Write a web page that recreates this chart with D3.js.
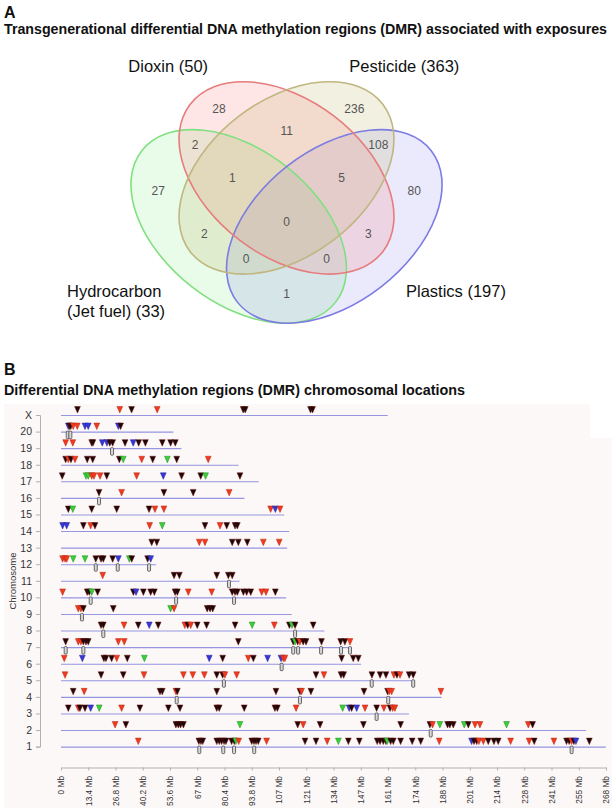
<!DOCTYPE html>
<html><head><meta charset="utf-8">
<script src="https://cdn.jsdelivr.net/npm/d3@7"></script>
<style>
body{margin:0;background:#fff;}
svg{display:block;font-family:"Liberation Sans",Arial,sans-serif;}
</style>
</head><body>
<svg id="c" width="616" height="812"></svg>
<script>
// ---------------- Panel A data ----------------
const setNames = ["Dioxin (50)", "Pesticide (363)", "Hydrocarbon", "(Jet fuel) (33)", "Plastics (197)"];
// region keys: D=Dioxin, P=Pesticide, H=Hydrocarbon, L=Plastics
const regionKeys   = ["D","P","DP","HD","PL","HDP","DPL","H","L","HDPL","HP","DL","HPL","HDL","HL"];
const regionCounts = [28, 236, 11, 2, 108, 1, 5, 27, 80, 0, 2, 3, 0, 0, 1];

// ---------------- Panel B data ----------------
const chromNames   = ["X","20","19","18","17","16","15","14","13","12","11","10","9","8","7","6","5","4","3","2","1"];
const chromLengths = [160.7,55.3,59.2,87.3,97.3,90.2,109.8,112.2,111.2,46.8,87.8,110.7,113.4,129.5,143.0,147.6,173.1,187.1,171.1,258.2,267.9];
const xTickValues  = [0,13.4,26.8,40.2,53.6,67,80.4,93.8,107.2,120.6,134,147.4,160.8,174.2,187.6,201,214.4,227.8,241.2,254.6,268];
const xTickLabels  = ["0 Mb","13.4 Mb","26.8 Mb","40.2 Mb","53.6 Mb","67 Mb","80.4 Mb","93.8 Mb","107 Mb","121 Mb","134 Mb","147 Mb","161 Mb","174 Mb","188 Mb","201 Mb","214 Mb","228 Mb","241 Mb","255 Mb","268 Mb"];

// DMR positions (Mb) with exposure type: k=dark, r=red, b=blue, g=green
const dmrX  = [[8.1,"k"],[28.9,"r"],[34.7,"k"],[47.3,"r"],[89.6,"k"],[90.6,"k"],[122.7,"k"],[123.7,"k"]];
const dmr20 = [[3.6,"b"],[4.2,"k"],[4.8,"k"],[6.0,"r"],[8.0,"r"],[11.8,"b"],[13.4,"b"],[17.6,"r"],[28.2,"b"],[29.3,"k"]];
const dmr19 = [[2.3,"r"],[5.8,"r"],[15.1,"k"],[15.7,"k"],[20.3,"b"],[22.6,"b"],[24,"k"],[25.4,"k"],[31.5,"k"],[35.5,"b"],[38.2,"k"],[41.5,"k"],[49.8,"k"],[53.9,"k"],[56.2,"k"]];
const dmr18 = [[2.3,"k"],[3.6,"r"],[4.9,"k"],[6.9,"r"],[12.9,"k"],[15.6,"k"],[28.7,"k"],[30.6,"g"],[39.7,"r"],[45.1,"k"],[52.3,"g"],[56.9,"k"],[72.4,"r"]];
const dmr17 = [[0.6,"k"],[12.3,"g"],[13.4,"g"],[15.1,"r"],[16.2,"r"],[19.2,"r"],[22.5,"k"],[37.2,"r"],[50.3,"b"],[59.3,"k"],[68.7,"k"],[71.1,"g"],[88,"k"]];
const dmr16 = [[18.7,"k"],[29.8,"r"],[50.6,"k"],[65,"k"],[82.7,"r"]];
const dmr15 = [[3.6,"k"],[5.8,"g"],[15.1,"k"],[27.4,"k"],[43.3,"k"],[46.2,"r"],[50.6,"r"],[103.1,"r"],[105.4,"b"],[107.7,"r"]];
const dmr14 = [[0.8,"b"],[2.8,"b"],[11,"k"],[14.6,"r"],[16.7,"k"],[43.6,"r"],[49.8,"g"],[70.8,"k"],[78.2,"r"],[81.5,"k"],[85.6,"k"],[86.7,"k"]];
const dmr13 = [[44.6,"k"],[47.1,"k"],[68,"r"],[70.8,"r"],[84.2,"k"],[87.2,"k"],[91.6,"k"],[99.5,"r"],[107.3,"r"]];
const dmr12 = [[0.8,"r"],[2,"r"],[2.8,"r"],[6,"g"],[11.8,"g"],[17.1,"k"],[19.7,"k"],[20.8,"k"],[25.4,"k"],[28.2,"b"],[33.6,"g"],[34.8,"k"],[42.6,"k"],[44.1,"b"]];
const dmr11 = [[20.5,"r"],[55.6,"k"],[58.2,"k"],[76.6,"k"],[82.3,"k"],[84.2,"k"]];
const dmr10 = [[0.8,"r"],[12.9,"k"],[13.9,"k"],[15.1,"g"],[18,"k"],[35.6,"k"],[36.9,"b"],[40.5,"k"],[44.1,"k"],[45.9,"k"],[56.1,"k"],[57.2,"k"],[62.6,"r"],[74.1,"r"],[84.2,"k"],[85.6,"k"],[86.7,"k"],[89.7,"k"],[91.3,"k"],[93.3,"k"],[98.7,"r"],[100.8,"r"],[105.4,"k"]];
const dmr9  = [[8.5,"r"],[9.8,"r"],[11,"k"],[25.7,"k"],[53.9,"g"],[55.6,"r"],[71.9,"k"],[73.3,"k"],[74.6,"k"]];
const dmr8  = [[19.7,"k"],[20.8,"k"],[31,"r"],[38,"k"],[43.4,"b"],[47.8,"k"],[60.9,"r"],[62.3,"k"],[63.8,"r"],[67,"k"],[71.6,"k"],[85.6,"k"],[94,"g"],[104.9,"r"],[112.3,"k"],[113.6,"g"],[115.1,"k"],[124,"k"]];
const dmr7  = [[2.3,"k"],[8.5,"r"],[9.8,"r"],[11,"k"],[12.3,"k"],[13.4,"k"],[28.2,"r"],[31.1,"r"],[87.2,"k"],[114.2,"k"],[115.1,"g"],[116.4,"k"],[117.5,"r"],[119.1,"k"],[120.5,"k"],[128.1,"k"],[137.5,"k"],[139.6,"k"],[142.1,"r"]];
const dmr6  = [[1.6,"r"],[10.5,"b"],[21.1,"k"],[22.1,"k"],[24.9,"k"],[27.4,"r"],[32.6,"k"],[41,"g"],[72.9,"b"],[79.5,"k"],[92.1,"r"],[94.6,"k"],[101.6,"b"],[108.2,"b"],[109.3,"r"],[110.1,"r"],[138,"k"],[143.7,"k"],[146.2,"k"]];
const dmr5  = [[2,"r"],[19.7,"k"],[30.6,"k"],[40.8,"r"],[60.2,"r"],[64.8,"r"],[70.5,"r"],[76.6,"k"],[79.5,"k"],[80.6,"r"],[86.4,"r"],[125.4,"k"],[129.3,"r"],[137.7,"k"],[139,"k"],[152.9,"k"],[156.9,"k"],[159.8,"k"],[163.7,"r"],[165.2,"k"],[166.7,"r"],[171.2,"k"],[173.2,"k"]];
const dmr4  = [[6,"k"],[11.4,"r"],[48.7,"k"],[49.8,"k"],[56.5,"r"],[57.2,"k"],[76.6,"k"],[105.7,"k"],[117.5,"k"],[118.3,"r"],[122.9,"k"],[149,"k"],[160.6,"k"],[161.4,"r"],[162.6,"r"],[186.8,"r"]];
const dmr3  = [[3.6,"k"],[8.5,"r"],[9.3,"k"],[11.8,"k"],[14.6,"b"],[18.8,"g"],[29.8,"r"],[38.8,"k"],[52.8,"k"],[58.5,"k"],[76.6,"k"],[77.8,"k"],[90.1,"k"],[105.2,"k"],[106.4,"k"],[115.6,"r"],[138.5,"g"],[141.7,"b"],[142.9,"k"],[145.4,"b"],[149.5,"r"],[155.2,"k"],[158.8,"r"],[161.8,"k"],[163.1,"r"],[164.2,"r"]];
const dmr2  = [[26.6,"r"],[31.9,"k"],[56.5,"k"],[57.7,"k"],[58.8,"k"],[60.2,"k"],[88,"g"],[116.4,"k"],[119.1,"r"],[127.4,"k"],[148.7,"k"],[167,"k"],[181.4,"k"],[182.7,"r"],[186.3,"g"],[190.1,"k"],[191.2,"k"],[192.9,"k"],[198.3,"g"],[200.3,"k"],[203.6,"r"],[206,"r"],[219.1,"g"],[229.8,"r"],[231.9,"k"]];
const dmr1  = [[38,"r"],[67.8,"k"],[68.8,"k"],[69.7,"k"],[76.6,"k"],[77.8,"k"],[79,"k"],[80.2,"k"],[81.1,"k"],[83.9,"k"],[85.2,"k"],[86,"g"],[87.4,"r"],[93.8,"k"],[94.9,"k"],[95.9,"k"],[97,"k"],[101.1,"r"],[120,"k"],[125.4,"k"],[130.9,"r"],[136.4,"g"],[141.3,"k"],[146.7,"k"],[155.5,"k"],[156.9,"k"],[158.5,"k"],[159.8,"k"],[160.4,"g"],[162.1,"k"],[163.4,"k"],[167,"k"],[172.7,"k"],[176.9,"k"],[186,"r"],[201.9,"b"],[203.1,"k"],[204.4,"k"],[205.5,"r"],[207.7,"r"],[210.1,"k"],[212.9,"k"],[215,"k"],[221.1,"r"],[230.2,"r"],[232.7,"k"],[242.4,"r"],[248.6,"k"],[249.9,"k"],[251.1,"r"],[252.2,"k"],[253.2,"b"],[259.8,"k"]];

// DMR clusters (Mb) drawn as small boxes below the chromosome
const clusterX=[],cluster20=[3.3,4.6],cluster19=[25.1],cluster18=[],cluster17=[],cluster16=[18.7],cluster15=[],cluster14=[],cluster13=[],
      cluster12=[17.1,27.9,43.3],cluster11=[82.6],cluster10=[14.6,56.6,85.1],cluster9=[10.3],cluster8=[20.8,115.1],
      cluster7=[2.3,11,114.2,116.6,127.9,137.7,142.1],cluster6=[108.5],cluster5=[80.1,152.8,173.2],cluster4=[56.9,117.5,160.9],
      cluster3=[155.2],cluster2=[181.8],cluster1=[68,79.8,85.1,95,251.1];

const dmrLists = [dmrX,dmr20,dmr19,dmr18,dmr17,dmr16,dmr15,dmr14,dmr13,dmr12,dmr11,dmr10,dmr9,dmr8,dmr7,dmr6,dmr5,dmr4,dmr3,dmr2,dmr1];
const clusterLists = [clusterX,cluster20,cluster19,cluster18,cluster17,cluster16,cluster15,cluster14,cluster13,cluster12,cluster11,cluster10,cluster9,cluster8,cluster7,cluster6,cluster5,cluster4,cluster3,cluster2,cluster1];

// ---------------- Layout / styles ----------------
const svg = d3.select("#c");
const font = '"Liberation Sans",Arial,sans-serif';

// Panel A titles
svg.append("text").attr("x",4).attr("y",17.5).attr("font-size",16).attr("font-weight","bold").attr("fill","#111").text("A");
svg.append("text").attr("x",4).attr("y",34).attr("font-size",14.4).attr("font-weight","bold").attr("fill","#111")
   .attr("textLength",603).attr("lengthAdjust","spacingAndGlyphs")
   .text("Transgenerational differential DNA methylation regions (DMR) associated with exposures");

// Venn ellipses (Hydrocarbon green, Plastics blue, Dioxin red, Pesticide olive)
const ellipses = [
  {cx:238.7, cy:226.4, rx:123, ry:76.5, rot:38,    fill:"#55dd55", fo:0.13, stroke:"#80e080"},
  {cx:334.3, cy:226.4, rx:123, ry:76.5, rot:-38,   fill:"#5a5ae6", fo:0.13, stroke:"#7c7ce2"},
  {cx:286.5, cy:177.9, rx:121.3, ry:78, rot:37.3,  fill:"#ff5555", fo:0.15, stroke:"#e67c7c"},
  {cx:286.5, cy:177.9, rx:121.3, ry:78, rot:-37.3, fill:"#b0a650", fo:0.17, stroke:"#c0b680"}
];
const gv = svg.append("g");
gv.selectAll("ellipse.f").data(ellipses).join("ellipse").attr("class","f")
  .attr("cx",d=>d.cx).attr("cy",d=>d.cy).attr("rx",d=>d.rx).attr("ry",d=>d.ry)
  .attr("transform",d=>`rotate(${d.rot},${d.cx},${d.cy})`)
  .attr("fill",d=>d.fill).attr("fill-opacity",d=>d.fo).attr("stroke","none");
gv.selectAll("ellipse.s").data(ellipses).join("ellipse").attr("class","s")
  .attr("cx",d=>d.cx).attr("cy",d=>d.cy).attr("rx",d=>d.rx).attr("ry",d=>d.ry)
  .attr("transform",d=>`rotate(${d.rot},${d.cx},${d.cy})`)
  .attr("fill","none").attr("stroke",d=>d.stroke).attr("stroke-width",1.6);

// region label positions (layout)
const regionPos = {D:[219,108.5],P:[354.3,108.5],DP:[286.7,131],HD:[195,144.5],PL:[378.3,144.5],HDP:[232.3,177.5],
  DPL:[341.7,177.5],H:[158.3,191],L:[414.3,191],HDPL:[286.5,222],HP:[204.3,234],DL:[368.3,234],HPL:[246,258.5],HDL:[326.7,258.5],HL:[286.7,293.5]};
gv.selectAll("text.n").data(regionKeys).join("text").attr("class","n")
  .attr("x",k=>regionPos[k][0]).attr("y",k=>regionPos[k][1]).attr("dy","0.35em")
  .attr("text-anchor","middle").attr("font-size",12).attr("fill","#555")
  .text((k,i)=>regionCounts[i]);

const setLabelPos = [[128.3,72],[349.3,72],[67,296.5],[67,317],[406,296.5]];
gv.selectAll("text.lab").data(setNames).join("text").attr("class","lab")
  .attr("x",(d,i)=>setLabelPos[i][0]).attr("y",(d,i)=>setLabelPos[i][1])
  .attr("font-size",16.5).attr("fill","#111").text(d=>d);

// ---------------- Panel B ----------------
svg.append("text").attr("x",4).attr("y",375).attr("font-size",16).attr("font-weight","bold").attr("fill","#111").text("B");
svg.append("text").attr("x",4).attr("y",394.5).attr("font-size",14.5).attr("font-weight","bold").attr("fill","#111")
   .attr("textLength",461).attr("lengthAdjust","spacingAndGlyphs")
   .text("Differential DNA methylation regions (DMR) chromosomal locations");

svg.append("path").attr("d","M4,404H590V438H612V808H4Z").attr("fill","#fdf8f8");

const x = d3.scaleLinear().domain([0,268]).range([61,606]);
const y = d3.scalePoint().domain(chromNames).range([415,746.6]);
const colors = {k:"#1c0606", r:"#f0391e", b:"#3737d8", g:"#38d038"};
const strokes = {k:"#6a1010", r:"#b52a14", b:"#22229a", g:"#1f8f1f"};

// y axis
const ya = svg.append("g").attr("transform","translate(40,0)")
  .call(d3.axisLeft(y).tickSize(4).tickPadding(4));
ya.selectAll("path,line").attr("stroke","#b0b0b0");
ya.selectAll("text").attr("font-size",10.5).attr("fill","#333").attr("font-family",font);

// x axis
const xa = svg.append("g").attr("transform","translate(0,767.5)")
  .call(d3.axisBottom(x).tickValues(xTickValues).tickFormat((d,i)=>xTickLabels[i]).tickSize(3).tickSizeOuter(0));
xa.selectAll("path,line").attr("stroke","#b0b0b0");
xa.selectAll("text").attr("font-size",8.3).attr("fill","#333").attr("font-family",font)
  .attr("transform","rotate(-90)").attr("text-anchor","end").attr("x",-8.5).attr("y",0).attr("dy","0.35em");

svg.append("text").attr("transform","translate(12.5,581) rotate(-90)").attr("text-anchor","middle")
  .attr("dy","0.35em").attr("font-size",9.5).attr("fill","#333").text("Chromosome");

// chromosome lines
const gLines = svg.append("g").attr("class","chrlines");
chromNames.forEach((c,i)=>{
  gLines.append("path")
    .attr("d",`M${x(0)},${y(c)+0.5}H${x(chromLengths[i])}`)
    .attr("fill","none").attr("stroke","#9595e0").attr("stroke-width",1.1);
});

const gm = svg.append("g");
// clusters (boxes)
chromNames.forEach((c,i)=>{
  clusterLists[i].forEach(v=>{
    gm.append("rect")
      .attr("x",x(v)-1.5).attr("y",y(c)-0.5).attr("width",3).attr("height",7.5).attr("rx",1)
      .attr("fill","#d8d8d8").attr("stroke","#444").attr("stroke-width",0.8);
  });
});
// DMR triangles
chromNames.forEach((c,i)=>{
  const yy = y(c);
  dmrLists[i].forEach(d=>{
    const px = x(d[0]);
    gm.append("path")
      .attr("d",`M${px-2.9},${yy-8.5}L${px+2.9},${yy-8.5}L${px},${yy-2}Z`)
      .attr("fill",colors[d[1]]).attr("stroke",strokes[d[1]]).attr("stroke-width",0.5);
  });
});
</script>
</body></html>
